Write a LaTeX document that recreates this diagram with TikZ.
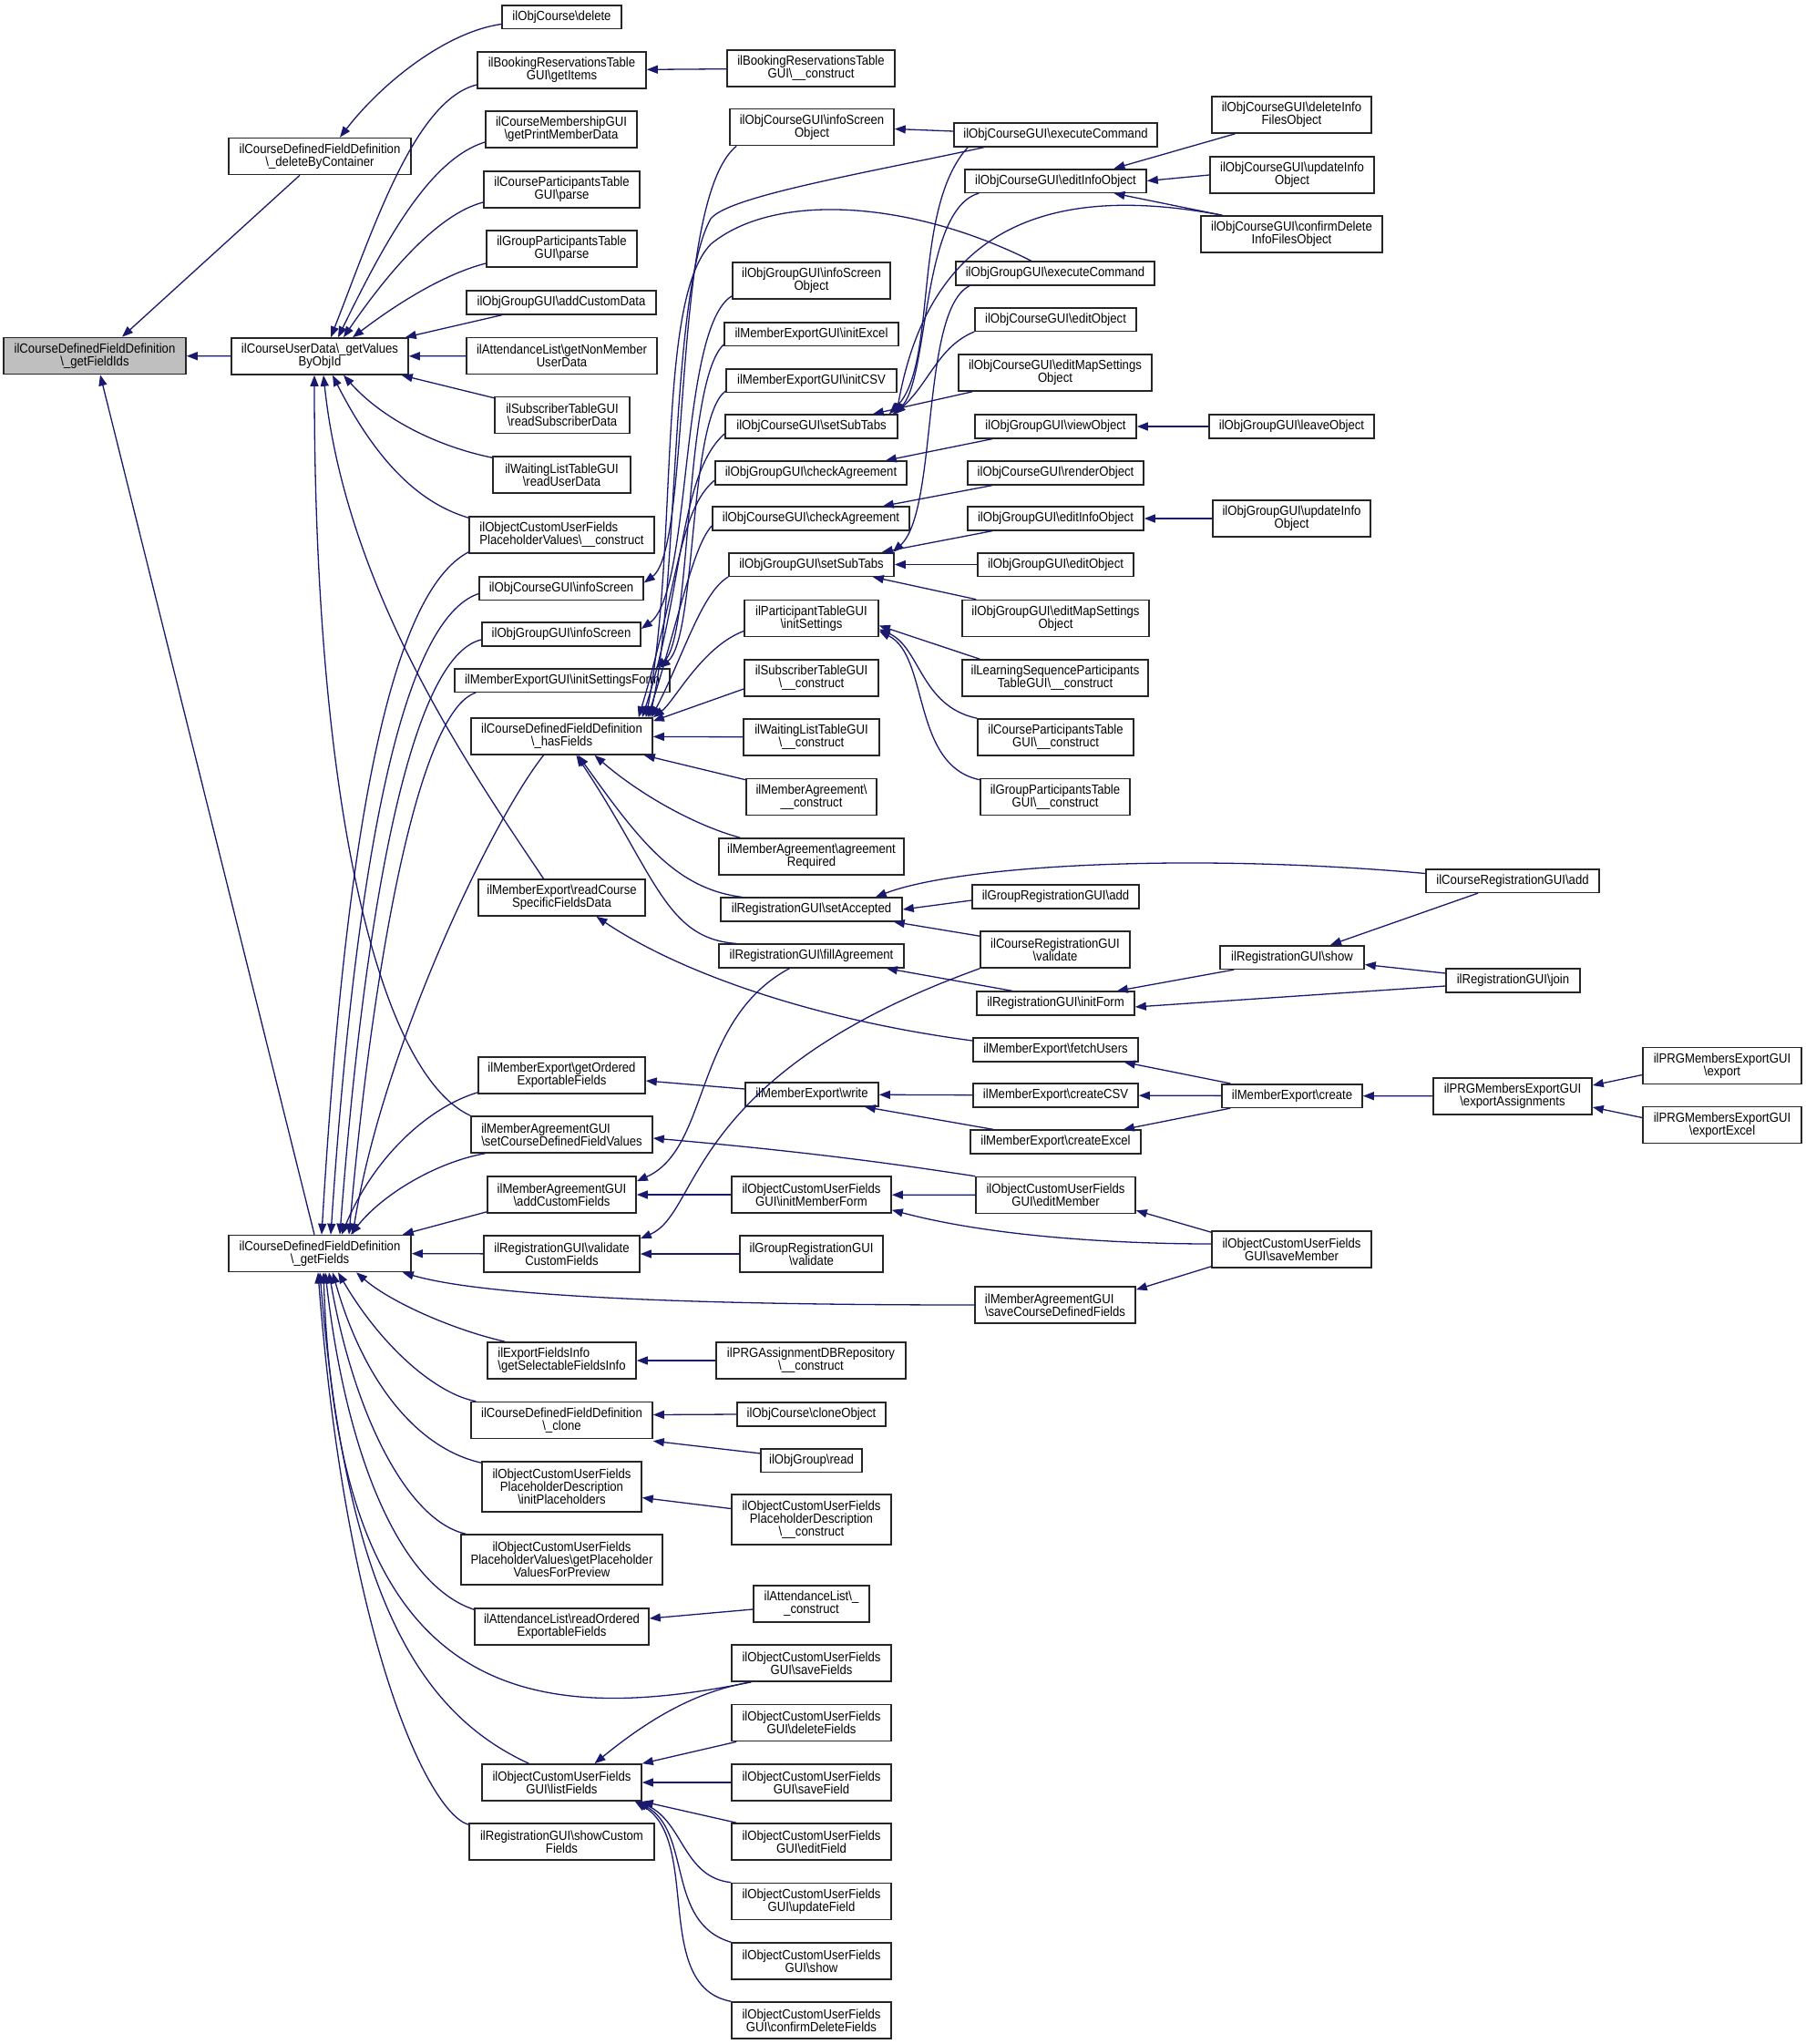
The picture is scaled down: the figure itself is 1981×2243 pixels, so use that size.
\documentclass[tikz,border=0pt]{standalone}
\usepackage{fontspec}
\setmainfont{Liberation Sans}[FakeStretch=0.9]
\usepackage{tikz}
\usetikzlibrary{arrows.meta}
\definecolor{edgeblue}{RGB}{25,25,112}
\definecolor{rootgray}{RGB}{191,191,191}
\newcommand{\bsl}{\textbackslash}

\begin{document}
\begin{tikzpicture}[x=0.5pt, y=-0.5pt,
  fn/.style={draw=black!85, line width=0.8pt, fill=white, align=center, inner sep=1pt,
    font=\fontsize{7.3}{6.9}\selectfont, minimum height=12.8pt},
  fn2/.style={fn, minimum height=20pt},
  fn3/.style={fn, minimum height=27.5pt},
  calls/.style={<-, draw=edgeblue, line width=0.65pt, >={Triangle[length=6pt, width=4.5pt]}}]

\useasboundingbox (0,0) rectangle (1981,2243);
\fill [white] (0,0) rectangle (1981,2243);

% first levels
 \node [fn2, fill=rootgray, minimum width=100pt] (fieldids) at (104,390.5)
     {ilCourseDefinedFieldDefinition\\\bsl\_getFieldIds};
 \node [fn2, minimum width=100pt] (delbycont) at (351,171.5)
     {ilCourseDefinedFieldDefinition\\\bsl\_deleteByContainer};
 \node [fn2, minimum width=97pt] (getvalues) at (351,391)
     {ilCourseUserData\bsl\_getValues\\ByObjId};
 \node [fn2, minimum width=100pt] (getfields) at (351,1375.5)
     {ilCourseDefinedFieldDefinition\\\bsl\_getFields};

% second column
 \node [fn, minimum width=65.5pt] (crsdelete) at (616.5,18.5) {ilObjCourse\bsl{}delete};
 \node [fn2, minimum width=92.5pt] (bookgetitems) at (616.5,77) {ilBookingReservationsTable\\GUI\bsl{}getItems};
 \node [fn2, minimum width=83pt] (printmember) at (616,142) {ilCourseMembershipGUI\\\bsl{}getPrintMemberData};
 \node [fn2, minimum width=85.5pt] (cptparse) at (616.5,208) {ilCourseParticipantsTable\\GUI\bsl{}parse};
 \node [fn2, minimum width=82.5pt] (gptparse) at (616.5,273) {ilGroupParticipantsTable\\GUI\bsl{}parse};
 \node [fn, minimum width=104pt] (addcustomdata) at (616,332) {ilObjGroupGUI\bsl{}addCustomData};
 \node [fn2, minimum width=104.5pt] (nonmember) at (616.5,390.5) {ilAttendanceList\bsl{}getNonMember\\UserData};
 \node [fn2, minimum width=74pt] (readsubscr) at (617,455.5) {ilSubscriberTableGUI\\\bsl{}readSubscriberData};
 \node [fn2, minimum width=75.5pt] (readuser) at (616.5,521) {ilWaitingListTableGUI\\\bsl{}readUserData};
 \node [fn2, align=left, minimum width=101.5pt] (phvconstruct) at (616.5,587) {ilObjectCustomUserFields\\PlaceholderValues\bsl\_\_construct};
 \node [fn, minimum width=90pt] (crsinfoscreen) at (616,645.5) {ilObjCourseGUI\bsl{}infoScreen};
 \node [fn, minimum width=87pt] (grpinfoscreen) at (616,696) {ilObjGroupGUI\bsl{}infoScreen};
 \node [fn, minimum width=118pt] (initsettingsform) at (617,746.5) {ilMemberExportGUI\bsl{}initSettingsForm};
 \node [fn2, minimum width=99.5pt] (hasfields) at (616.5,808) {ilCourseDefinedFieldDefinition\\\bsl\_hasFields};
 \node [fn2, minimum width=91.5pt] (readcourse) at (616.5,985) {ilMemberExport\bsl{}readCourse\\SpecificFieldsData};
 \node [fn2, minimum width=91.5pt] (getordered) at (616.5,1180) {ilMemberExport\bsl{}getOrdered\\ExportableFields};
 \node [fn2, align=left, minimum width=99.5pt] (setcdfv) at (616.5,1245) {ilMemberAgreementGUI\\\bsl{}setCourseDefinedFieldValues};
 \node [fn2, minimum width=81.5pt] (addcustomfields) at (616.5,1311) {ilMemberAgreementGUI\\\bsl{}addCustomFields};
 \node [fn2, minimum width=85.5pt] (validatecustom) at (616.5,1376) {ilRegistrationGUI\bsl{}validate\\CustomFields};
 \node [fn2, align=left, minimum width=81.5pt] (selectable) at (616.5,1493) {ilExportFieldsInfo\\\bsl{}getSelectableFieldsInfo};
 \node [fn2, minimum width=99.5pt] (clone) at (616.5,1558.5) {ilCourseDefinedFieldDefinition\\\bsl\_clone};
 \node [fn3, minimum width=87.5pt] (initplaceholders) at (616.5,1631.5) {ilObjectCustomUserFields\\PlaceholderDescription\\\bsl{}initPlaceholders};
 \node [fn3, minimum width=110.5pt] (phvpreview) at (616.5,1711.5) {ilObjectCustomUserFields\\PlaceholderValues\bsl{}getPlaceholder\\ValuesForPreview};
 \node [fn2, minimum width=95.5pt] (readordered) at (616.5,1785) {ilAttendanceList\bsl{}readOrdered\\ExportableFields};
 \node [fn2, minimum width=87.5pt] (listfields) at (616.5,1956) {ilObjectCustomUserFields\\GUI\bsl{}listFields};
 \node [fn2, minimum width=101.5pt] (showcustom) at (616.5,2021) {ilRegistrationGUI\bsl{}showCustom\\Fields};

% third column
 \node [fn2, minimum width=92pt] (bookconstruct) at (890,75) {ilBookingReservationsTable\\GUI\bsl\_\_construct};
 \node [fn2, minimum width=90pt] (crsinfoobj) at (891,139.5) {ilObjCourseGUI\bsl{}infoScreen\\Object};
 \node [fn2, minimum width=86.5pt] (grpinfoobj) at (890.5,308) {ilObjGroupGUI\bsl{}infoScreen\\Object};
 \node [fn, minimum width=95.5pt] (initexcel) at (890.5,366.5) {ilMemberExportGUI\bsl{}initExcel};
 \node [fn, minimum width=93.5pt] (initcsv) at (890.5,417.5) {ilMemberExportGUI\bsl{}initCSV};
 \node [fn, minimum width=94.5pt] (crssubtabs) at (890.5,468) {ilObjCourseGUI\bsl{}setSubTabs};
 \node [fn, minimum width=105pt] (grpcheckagr) at (890,519) {ilObjGroupGUI\bsl{}checkAgreement};
 \node [fn, minimum width=108pt] (crscheckagr) at (890,569) {ilObjCourseGUI\bsl{}checkAgreement};
 \node [fn, minimum width=90.5pt] (grpsubtabs) at (890.5,619.5) {ilObjGroupGUI\bsl{}setSubTabs};
 \node [fn2, minimum width=73.5pt] (initsettings) at (890.5,678.5) {ilParticipantTableGUI\\\bsl{}initSettings};
 \node [fn2, minimum width=73.5pt] (subscrconstruct) at (890.5,744) {ilSubscriberTableGUI\\\bsl\_\_construct};
 \node [fn2, minimum width=74.5pt] (waitconstruct) at (890.5,809) {ilWaitingListTableGUI\\\bsl\_\_construct};
 \node [fn2, minimum width=71.5pt] (agrconstruct) at (890.5,874.5) {ilMemberAgreement\bsl\\\_\_construct};
 \node [fn2, minimum width=101.5pt] (agrrequired) at (890.5,940) {ilMemberAgreement\bsl{}agreement\\Required};
 \node [fn, minimum width=99.5pt] (setaccepted) at (890.5,998) {ilRegistrationGUI\bsl{}setAccepted};
 \node [fn, minimum width=101.5pt] (fillagreement) at (890.5,1049) {ilRegistrationGUI\bsl{}fillAgreement};
 \node [fn, minimum width=73pt] (write) at (891,1201) {ilMemberExport\bsl{}write};
 \node [fn2, minimum width=87.5pt] (initmemberform) at (890.5,1311) {ilObjectCustomUserFields\\GUI\bsl{}initMemberForm};
 \node [fn2, minimum width=78.5pt] (grpregvalidate) at (890.5,1376) {ilGroupRegistrationGUI\\\bsl{}validate};
 \node [fn2, minimum width=104pt] (prgrepo) at (890,1493) {ilPRGAssignmentDBRepository\\\bsl\_\_construct};
 \node [fn, minimum width=81.5pt] (cloneobject) at (890.5,1552) {ilObjCourse\bsl{}cloneObject};
 \node [fn, minimum width=55.5pt] (grpread) at (890.5,1602.5) {ilObjGroup\bsl{}read};
 \node [fn3, minimum width=87.5pt] (phdconstruct) at (890.5,1667.5) {ilObjectCustomUserFields\\PlaceholderDescription\\\bsl\_\_construct};
 \node [fn2, minimum width=63.5pt] (attconstruct) at (890.5,1760) {ilAttendanceList\bsl\_\\\_construct};
 \node [fn2, minimum width=87.5pt] (savefields) at (890.5,1825) {ilObjectCustomUserFields\\GUI\bsl{}saveFields};
 \node [fn2, minimum width=87.5pt] (deletefields) at (890.5,1890.5) {ilObjectCustomUserFields\\GUI\bsl{}deleteFields};
 \node [fn2, minimum width=87.5pt] (savefield) at (890.5,1956) {ilObjectCustomUserFields\\GUI\bsl{}saveField};
 \node [fn2, minimum width=87.5pt] (editfield) at (890.5,2021) {ilObjectCustomUserFields\\GUI\bsl{}editField};
 \node [fn2, minimum width=87.5pt] (updatefield) at (890.5,2086.5) {ilObjectCustomUserFields\\GUI\bsl{}updateField};
 \node [fn2, minimum width=87.5pt] (cufshow) at (890.5,2152) {ilObjectCustomUserFields\\GUI\bsl{}show};
 \node [fn2, minimum width=87.5pt] (confirmdelfields) at (890.5,2217) {ilObjectCustomUserFields\\GUI\bsl{}confirmDeleteFields};

% fourth column
 \node [fn, minimum width=111.5pt] (crsexec) at (1158.5,148) {ilObjCourseGUI\bsl{}executeCommand};
 \node [fn, minimum width=99.5pt] (crseditinfo) at (1158.5,198.5) {ilObjCourseGUI\bsl{}editInfoObject};
 \node [fn, minimum width=109pt] (grpexec) at (1158,300) {ilObjGroupGUI\bsl{}executeCommand};
 \node [fn, minimum width=88.5pt] (crseditobj) at (1158.5,350.5) {ilObjCourseGUI\bsl{}editObject};
 \node [fn2, minimum width=106pt] (crseditmap) at (1158,409) {ilObjCourseGUI\bsl{}editMapSettings\\Object};
 \node [fn, minimum width=88.5pt] (grpview) at (1158.5,468) {ilObjGroupGUI\bsl{}viewObject};
 \node [fn, minimum width=96.5pt] (crsrender) at (1158.5,519) {ilObjCourseGUI\bsl{}renderObject};
 \node [fn, minimum width=96.5pt] (grpeditinfo) at (1158.5,569) {ilObjGroupGUI\bsl{}editInfoObject};
 \node [fn, minimum width=85.5pt] (grpeditobj) at (1158.5,619.5) {ilObjGroupGUI\bsl{}editObject};
 \node [fn2, minimum width=102.5pt] (grpeditmap) at (1158.5,678.5) {ilObjGroupGUI\bsl{}editMapSettings\\Object};
 \node [fn2, minimum width=102pt] (lspconstruct) at (1158,744) {ilLearningSequenceParticipants\\TableGUI\bsl\_\_construct};
 \node [fn2, minimum width=85.5pt] (cptconstruct) at (1158.5,809) {ilCourseParticipantsTable\\GUI\bsl\_\_construct};
 \node [fn2, minimum width=82pt] (gptconstruct) at (1158,874.5) {ilGroupParticipantsTable\\GUI\bsl\_\_construct};
 \node [fn, minimum width=91.5pt] (grpregadd) at (1158.5,984) {ilGroupRegistrationGUI\bsl{}add};
 \node [fn2, minimum width=82pt] (crsregvalidate) at (1158,1042) {ilCourseRegistrationGUI\\\bsl{}validate};
 \node [fn, minimum width=86.5pt] (initform) at (1158.5,1101) {ilRegistrationGUI\bsl{}initForm};
 \node [fn, minimum width=90.5pt] (fetchusers) at (1158.5,1152) {ilMemberExport\bsl{}fetchUsers};
 \node [fn, minimum width=90.5pt] (createcsv) at (1158.5,1202) {ilMemberExport\bsl{}createCSV};
 \node [fn, minimum width=93.5pt] (createexcel) at (1158.5,1253) {ilMemberExport\bsl{}createExcel};
 \node [fn2, minimum width=87.5pt] (editmember) at (1158.5,1311.5) {ilObjectCustomUserFields\\GUI\bsl{}editMember};
 \node [fn2, align=left, minimum width=88pt] (savecdf) at (1158,1432) {ilMemberAgreementGUI\\\bsl{}saveCourseDefinedFields};

% right columns
 \node [fn2, minimum width=87.5pt] (delinfofiles) at (1417.5,126) {ilObjCourseGUI\bsl{}deleteInfo\\FilesObject};
 \node [fn2, minimum width=90pt] (crsupdateinfo) at (1418,192) {ilObjCourseGUI\bsl{}updateInfo\\Object};
 \node [fn2, minimum width=99.5pt] (confirmdelinfo) at (1417.5,257) {ilObjCourseGUI\bsl{}confirmDelete\\InfoFilesObject};
 \node [fn, minimum width=90.5pt] (leaveobj) at (1417.5,468) {ilObjGroupGUI\bsl{}leaveObject};
 \node [fn2, minimum width=86.5pt] (grpupdateinfo) at (1417.5,569) {ilObjGroupGUI\bsl{}updateInfo\\Object};
 \node [fn, minimum width=79pt] (regshow) at (1418,1050.5) {ilRegistrationGUI\bsl{}show};
 \node [fn, minimum width=77pt] (mecreate) at (1418,1202.5) {ilMemberExport\bsl{}create};
 \node [fn2, minimum width=87.5pt] (savemember) at (1417.5,1371) {ilObjectCustomUserFields\\GUI\bsl{}saveMember};
 \node [fn, minimum width=95pt] (crsregadd) at (1660,966.5) {ilCourseRegistrationGUI\bsl{}add};
 \node [fn, minimum width=73.5pt] (regjoin) at (1660.5,1076) {ilRegistrationGUI\bsl{}join};
 \node [fn2, minimum width=87pt] (exportassign) at (1660,1203) {ilPRGMembersExportGUI\\\bsl{}exportAssignments};
 \node [fn2, minimum width=87pt] (prgexport) at (1890,1169.5) {ilPRGMembersExportGUI\\\bsl{}export};
 \node [fn2, minimum width=87pt] (prgexportexcel) at (1890,1234.5) {ilPRGMembersExportGUI\\\bsl{}exportExcel};

% calls into the root
 \draw [calls] ([xshift=15pt]fieldids.north) -- ([xshift=-11pt]delbycont.south);
 \draw [calls] (fieldids) -- (getvalues);
 \draw [calls] ([xshift=3pt]fieldids.south) -- ([xshift=-3pt]getfields.north);
 \draw [calls] ([xshift=11pt]delbycont.north) .. controls (420,90) and (490,35) .. ([yshift=-4pt]crsdelete.west);

% calls into getValuesByObjId
 \draw [calls] ([xshift=6pt]getvalues.north) .. controls (410,250) and (455,110) .. ([yshift=-8pt]bookgetitems.west);
 \draw [calls] ([xshift=10pt]getvalues.north) .. controls (420,270) and (470,175) .. ([yshift=-7pt]printmember.west);
 \draw [calls] ([xshift=13pt]getvalues.north) .. controls (425,300) and (480,235) .. ([yshift=-7pt]cptparse.west);
 \draw [calls] ([xshift=18pt]getvalues.north) .. controls (440,330) and (490,300) .. ([yshift=-8pt]gptparse.west);
 \draw [calls] ([xshift=-2pt]getvalues.north east) -- ([xshift=20pt]addcustomdata.south west);
 \draw [calls] (getvalues) -- (nonmember);
 \draw [calls] ([xshift=-4pt]getvalues.south east) -- ([yshift=-1pt]readsubscr.north west);
 \draw [calls] ([xshift=13pt]getvalues.south) .. controls (420,460) and (480,490) .. ([yshift=-1pt]readuser.north west);
 \draw [calls] ([xshift=7pt]getvalues.south) .. controls (420,520) and (470,555) .. ([yshift=-1pt]phvconstruct.north west);
 \draw [calls] ([xshift=2pt]getvalues.south) .. controls (380,650) and (520,850) .. ([xshift=-10pt]readcourse.north);
 \draw [calls] ([xshift=-3pt]getvalues.south) .. controls (345,900) and (420,1180) .. (setcdfv.north west);

% calls into getFields
 \draw [calls] ([xshift=1pt]getfields.north) .. controls (380,900) and (430,650) .. ([yshift=1pt]phvconstruct.south west);
 \draw [calls] ([xshift=6pt]getfields.north) .. controls (390,950) and (440,680) .. ([yshift=-3pt]crsinfoscreen.west);
 \draw [calls] ([xshift=11pt]getfields.north) .. controls (400,1000) and (450,720) .. ([yshift=-3pt]grpinfoscreen.west);
 \draw [calls] ([xshift=16pt]getfields.north) .. controls (410,1050) and (460,780) .. ([xshift=12pt]initsettingsform.south west);
 \draw [calls] ([xshift=18pt]getfields.north) .. controls (420,1150) and (540,900) .. ([xshift=-10pt]hasfields.south);
 \draw [calls] ([xshift=12pt]getfields.north) .. controls (410,1270) and (470,1215) .. ([yshift=1pt]getordered.south west);
 \draw [calls] ([xshift=17pt]getfields.north) .. controls (420,1310) and (480,1275) .. ([xshift=8pt]setcdfv.south west);
 \draw [calls] ([xshift=-5pt]getfields.north east) -- ([yshift=1pt]addcustomfields.south west);
 \draw [calls] (getfields) -- (validatecustom);
 \draw [calls] ([xshift=-5pt]getfields.south east) .. controls (540,1425) and (800,1432) .. (savecdf.west);
 \draw [calls] ([xshift=20pt]getfields.south) .. controls (430,1430) and (500,1460) .. ([xshift=10pt]selectable.north west);
 \draw [calls] ([xshift=10pt]getfields.south) .. controls (420,1480) and (480,1530) .. ([xshift=3pt]clone.north west);
 \draw [calls] ([xshift=7pt]getfields.south) .. controls (400,1520) and (460,1590) .. ([yshift=-1pt]initplaceholders.north west);
 \draw [calls] ([xshift=5pt]getfields.south) .. controls (390,1560) and (450,1670) .. ([xshift=3pt]phvpreview.north west);
 \draw [calls] ([xshift=3pt]getfields.south) .. controls (380,1600) and (440,1740) .. ([yshift=-1pt]readordered.north west);
 \draw [calls] ([xshift=2pt]getfields.south) .. controls (370,1850) and (560,1900) .. ([xshift=11pt]savefields.south west);
 \draw [calls] (getfields.south) .. controls (380,1750) and (460,1880) .. ([xshift=-18pt]listfields.north);
 \draw [calls] ([xshift=-1pt]getfields.south) .. controls (380,1800) and (470,1990) .. ([yshift=-1pt]showcustom.north west);

% calls into hasFields
 \draw [calls] ([xshift=-2pt]hasfields.north east) .. controls (745,650) and (735,320) .. (780,240) .. controls (800,215) and (950,190) .. ([xshift=17pt]crsexec.south west);
 \draw [calls] ([xshift=-4pt]hasfields.north east) .. controls (745,600) and (720,330) .. (780,268) .. controls (850,210) and (1000,220) .. ([xshift=-13pt]grpexec.north);
 \draw [calls] ([xshift=-6pt]hasfields.north east) .. controls (750,650) and (745,520) .. ([yshift=-4pt]crssubtabs.west);
 \draw [calls] ([xshift=-8pt]hasfields.north east) .. controls (745,640) and (745,560) .. ([yshift=-4pt]grpcheckagr.west);
 \draw [calls] ([xshift=-3pt]hasfields.north east) .. controls (745,680) and (760,600) .. ([yshift=-4pt]crscheckagr.west);
 \draw [calls] ([xshift=-1pt]hasfields.north east) .. controls (750,720) and (770,650) .. (grpsubtabs.south west);
 \draw [calls] (hasfields.north east) .. controls (740,770) and (770,710) .. ([yshift=-7pt]initsettings.west);
 \draw [calls] ([yshift=-2pt]hasfields.north east) -- ([yshift=-6pt]subscrconstruct.west);
 \draw [calls] (hasfields) -- (waitconstruct);
 \draw [calls] ([xshift=-5pt]hasfields.south east) -- ([yshift=-1pt]agrconstruct.north west);
 \draw [calls] ([xshift=18pt]hasfields.south) .. controls (700,870) and (760,905) .. ([xshift=12pt]agrrequired.north west);
 \draw [calls] ([xshift=9pt]hasfields.south) .. controls (700,920) and (740,975) .. ([xshift=12pt]setaccepted.north west);
 \draw [calls] ([xshift=8pt]hasfields.south) .. controls (720,960) and (730,1030) .. ([xshift=10pt]fillagreement.north west);

% upper right calls
 \draw [calls] (bookgetitems) -- (bookconstruct);
 \draw [calls] ([yshift=-1pt]crsinfoobj.east) -- ([yshift=2pt]crsexec.west);
 \draw [calls] ([yshift=3pt]crsinfoscreen.east) .. controls (760,600) and (735,220) .. ([xshift=4pt]crsinfoobj.south west);
 \draw [calls] ([yshift=3pt]grpinfoscreen.east) .. controls (760,650) and (745,360) .. ([yshift=2pt]grpinfoobj.south west);
 \draw [calls] ([xshift=-8pt]initsettingsform.north east) .. controls (760,700) and (750,420) .. ([yshift=1pt]initexcel.south west);
 \draw [calls] ([xshift=-6pt]initsettingsform.north east) .. controls (765,700) and (755,460) .. ([yshift=1pt]initcsv.south west);
 \draw [calls] ([xshift=32pt]crseditinfo.north) -- ([xshift=-31pt]delinfofiles.south);
 \draw [calls] (crseditinfo.east) -- (crsupdateinfo.west);
 \draw [calls] ([xshift=32pt]crseditinfo.south) -- ([xshift=12pt]confirmdelinfo.north west);
 \draw [calls] ([xshift=-5pt]crssubtabs.north east) .. controls (1030,400) and (1000,230) .. ([xshift=8pt]crsexec.south west);
 \draw [calls] ([xshift=-3pt]crssubtabs.north east) .. controls (1020,420) and (1010,230) .. ([xshift=8pt]crseditinfo.south west);
 \draw [calls] ([xshift=-1pt]crssubtabs.north east) .. controls (1020,250) and (1150,200) .. ([xshift=12pt]confirmdelinfo.north west);
 \draw [calls] ([xshift=-2pt]crssubtabs.north east) .. controls (1020,420) and (1030,380) .. (crseditobj.south west);
 \draw [calls] ([xshift=-14pt]crssubtabs.north east) -- ([xshift=8pt]crseditmap.south west);
 \draw [calls] ([xshift=-12pt]grpcheckagr.north east) -- ([xshift=10pt]grpview.south west);
 \draw [calls] (grpview) -- (leaveobj);
 \draw [calls] ([xshift=-15pt]crscheckagr.north east) -- ([xshift=14pt]crsrender.south west);
 \draw [calls] (grpeditinfo) -- (grpupdateinfo);
 \draw [calls] ([xshift=-7pt]grpsubtabs.north east) -- ([xshift=14pt]grpeditinfo.south west);
 \draw [calls] ([xshift=-1pt]grpsubtabs.north east) .. controls (1030,560) and (1010,340) .. ([xshift=8pt]grpexec.south west);
 \draw [calls] (grpsubtabs) -- (grpeditobj);
 \draw [calls] ([xshift=-12pt]grpsubtabs.south east) -- ([xshift=8pt]grpeditmap.north west);
 \draw [calls] ([yshift=-4pt]initsettings.east) -- ([xshift=10pt]lspconstruct.north west);
 \draw [calls] ([yshift=-6pt]initsettings.east) .. controls (1010,710) and (1010,775) .. (cptconstruct.north west);
 \draw [calls] ([yshift=-7pt]initsettings.east) .. controls (1020,720) and (1000,840) .. ([yshift=-1pt]gptconstruct.north west);

% registration calls
 \draw [calls] ([xshift=-15pt]setaccepted.north east) .. controls (1050,950) and (1300,935) .. ([yshift=4pt]crsregadd.west);
 \draw [calls] (setaccepted.east) -- ([yshift=-2pt]grpregadd.west);
 \draw [calls] ([xshift=-5pt]setaccepted.south east) -- ([yshift=-3pt]crsregvalidate.north west);
 \draw [calls] ([xshift=-10pt]fillagreement.south east) -- ([xshift=20pt]initform.north west);
 \draw [calls] ([xshift=-10pt]initform.north east) -- ([xshift=8pt]regshow.south west);
 \draw [calls] ([yshift=-2pt]initform.east) -- ([yshift=-3pt]regjoin.west);
 \draw [calls] ([xshift=21pt]regshow.north) -- ([xshift=-19pt]crsregadd.south);
 \draw [calls] ([yshift=-4pt]regshow.east) -- ([yshift=4pt]regjoin.west);
 \draw [calls] ([yshift=-3pt]addcustomfields.north east) .. controls (780,1260) and (760,1120) .. ([xshift=-12pt]fillagreement.south);
 \draw [calls] ([yshift=-2pt]validatecustom.north east) .. controls (770,1330) and (750,1180) .. (crsregvalidate.south west);
 \draw [calls] (validatecustom) -- (grpregvalidate);

% export calls
 \draw [calls] ([xshift=19pt]readcourse.south) .. controls (750,1070) and (900,1120) .. ([yshift=5pt]fetchusers.west);
 \draw [calls] ([yshift=-3pt]getordered.east) -- ([yshift=3pt]write.west);
 \draw [calls] (write) -- (createcsv);
 \draw [calls] ([xshift=-8pt]write.south east) -- ([xshift=13pt]createexcel.north west);
 \draw [calls] ([xshift=-8pt]fetchusers.south east) -- ([xshift=5pt]mecreate.north west);
 \draw [calls] (createcsv) -- (mecreate);
 \draw [calls] ([xshift=-10pt]createexcel.north east) -- ([xshift=5pt]mecreate.south west);
 \draw [calls] (mecreate) -- (exportassign);
 \draw [calls] ([yshift=6pt]exportassign.east) -- ([yshift=-5pt]prgexport.west);
 \draw [calls] ([yshift=-6pt]exportassign.east) -- ([yshift=4pt]prgexportexcel.west);

% custom user field calls
 \draw [calls] ([yshift=-2pt]setcdfv.east) .. controls (900,1265) and (1000,1280) .. (editmember.north west);
 \draw [calls] (addcustomfields) -- (initmemberform);
 \draw [calls] (initmemberform) -- (editmember);
 \draw [calls] ([yshift=2pt]initmemberform.south east) .. controls (1100,1360) and (1250,1365) .. ([yshift=3pt]savemember.west);
 \draw [calls] ([yshift=2pt]editmember.south east) -- ([yshift=-1pt]savemember.north west);
 \draw [calls] ([yshift=-2pt]savecdf.north east) -- ([yshift=1pt]savemember.south west);
 \draw [calls] (selectable) -- (prgrepo);
 \draw [calls] ([yshift=3pt]clone.east) -- (cloneobject.west);
 \draw [calls] ([yshift=-1pt]clone.south east) -- ([yshift=-3pt]grpread.north west);
 \draw [calls] ([yshift=-6pt]initplaceholders.east) -- ([yshift=6pt]phdconstruct.west);
 \draw [calls] ([yshift=4.5pt]readordered.east) -- ([yshift=-3pt]attconstruct.west);
 \draw [calls] ([xshift=18pt]listfields.north) .. controls (720,1880) and (770,1855) .. ([xshift=11pt]savefields.south west);
 \draw [calls] (listfields.north east) -- ([xshift=3pt]deletefields.south west);
 \draw [calls] (listfields) -- (savefield);
 \draw [calls] (listfields.south east) -- ([xshift=3pt]editfield.north west);
 \draw [calls] ([xshift=-2pt]listfields.south east) .. controls (750,2000) and (750,2060) .. (updatefield.north west);
 \draw [calls] ([xshift=-3pt]listfields.south east) .. controls (760,2010) and (730,2110) .. (cufshow.north west);
 \draw [calls] ([xshift=-4pt]listfields.south east) .. controls (770,2020) and (715,2180) .. (confirmdelfields.north west);

\end{tikzpicture}
\end{document}
